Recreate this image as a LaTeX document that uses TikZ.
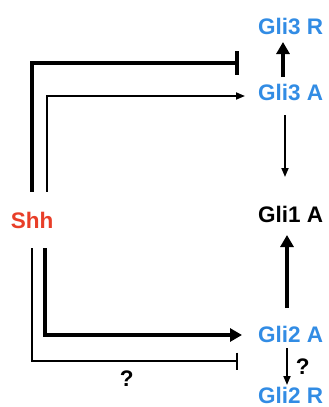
\documentclass[tikz,border=0pt]{standalone}
\usepackage{fontspec}
\setmainfont{Liberation Sans}
\usetikzlibrary{arrows.meta}
\definecolor{gliblue}{RGB}{50,140,228}
\definecolor{shhred}{RGB}{232,62,40}
\begin{document}
\begin{tikzpicture}[x=1pt,y=-1pt,
        lbl/.style={font=\bfseries\fontsize{22.5}{24}\selectfont, inner sep=0pt, text height=16pt, text depth=0pt},
        gli/.style={lbl, text=gliblue, anchor=west},
        thickline/.style={line width=3.6pt},
        thinline/.style={line width=1.8pt},
        thickarrow/.style={thickline, -{Triangle[length=12pt,width=13pt]}},
        thinarrow/.style={thinline, -{Triangle[length=9pt,width=7pt]}},
        thickbar/.style={thickline, -{Bar[width=24pt]}},
        thinbar/.style={thinline, -{Bar[width=17pt]}}]

                    \useasboundingbox (0,0) rectangle (329,407);

                    \node [lbl, text=shhred, inner ysep=20pt] (shh) at (32,220) {Shh};
                    \node [gli] (g3r) at (258,26) {Gli3 R};
                    \node [gli] (g3a) at (258,92) {Gli3 A};
                    \node [lbl, anchor=west] (g1a) at (258,214) {Gli1 A};
                    \node [gli] (g2a) at (258,334) {Gli2 A};
                    \node [gli] (g2r) at (258,395) {Gli2 R};

                    \draw [thickbar] (shh.north) |- ([xshift=-19pt,yshift=-37pt]g3r.west);
                    \draw [thinarrow] ([xshift=15pt]shh.north) |- ([xshift=-13pt,yshift=-4pt]g3a.west);
                    \draw [thickarrow] ([xshift=13pt]shh.south) |- ([xshift=-16pt,yshift=-1pt]g2a.west);
                    \draw [thinbar] (shh.south) |- ([xshift=-20pt,yshift=-27pt]g2a.west)
                        node [lbl, pos=0.73, below=9pt] (q1) {?};

                    \draw [thickarrow] ([xshift=25pt,yshift=15pt]g3a.west) -- ([xshift=25pt,yshift=-16pt]g3r.west);
                    \draw [thinarrow] ([xshift=27pt,yshift=-23pt]g3a.west) -- ([xshift=27pt,yshift=37pt]g1a.west);
                    \draw [thickarrow] ([xshift=29pt,yshift=26pt]g2a.west) -- ([xshift=29pt,yshift=-21pt]g1a.west);
                    \draw [thinarrow] ([xshift=29pt,yshift=-14pt]g2a.west) -- ([xshift=29pt,yshift=10pt]g2r.west)
                        node [lbl, midway, right=8pt] (q2) {?};

                \end{tikzpicture}
\end{document}
